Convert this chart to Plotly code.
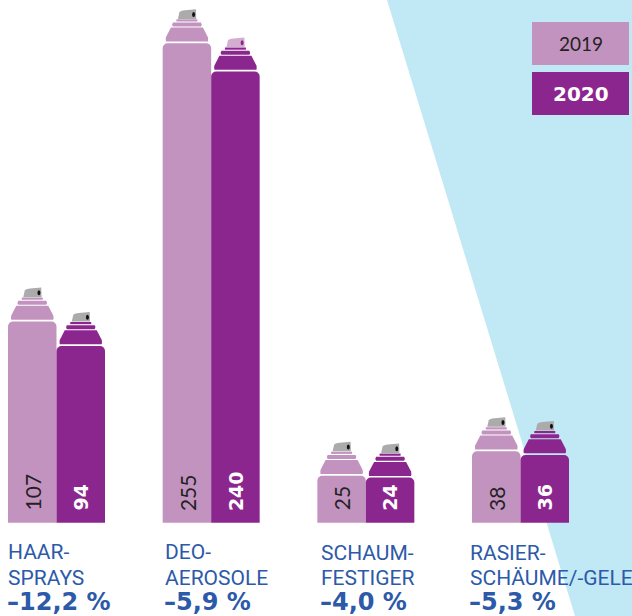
import plotly.graph_objects as go

# ---- data ----
categories = ["Haarsprays", "Deo-Aerosole", "Schaumfestiger", "Rasierschäume/-gele"]
label_lines = [["HAAR-", "SPRAYS"], ["DEO-", "AEROSOLE"], ["SCHAUM-", "FESTIGER"], ["RASIER-", "SCHÄUME/-GELE"]]
changes = ["–12,2 %", "–5,9 %", "–4,0 %", "–5,3 %"]
values_2019 = [107, 255, 25, 38]
values_2020 = [94, 240, 24, 36]

# ---- style ----
C19, C20 = "#c393bf", "#8c268f"
GREY, LIGHT_NOZ, SKY = "#ababab", "#d3aed1", "#c1e8f5"
BLUE = "#2c5aa8"
W, H = 632, 616
BASE_PX, PX_PER_UNIT = 522.7, 1.88
GROUP0_PX, GROUP_STEP = 56.5, 154.67
BAR_W = 48.5 / GROUP_STEP
label_x = [8, 165, 320.5, 470]
label_y = [[552, 578, 601.5], [552, 578, 601.5], [553, 578, 601.5], [553, 578, 601.5]]

fig = go.Figure()
xs = list(range(len(categories)))
for name, vals, col in [("2019", values_2019, C19), ("2020", values_2020, C20)]:
    fig.add_bar(x=xs, y=vals, name=name, marker=dict(color=col, line_width=0, cornerradius=5),
                hovertext=categories)

shapes = [dict(type="path", xref="paper", yref="paper", layer="below", line_width=0, fillcolor=SKY,
               path=f"M {387/W} 1 L 1 1 L 1 0 L {575/W} 0 Z")]


def can(xc, val, col, noz):
    def p(path, fill):
        return dict(type="path", xref="x", yref="y", xsizemode="pixel", ysizemode="pixel",
                    xanchor=xc, yanchor=val, path=path, fillcolor=fill, line_width=0, layer="above")
    return [
        p("M -21 1.7 L 21 1.7 Q 21.5 4 21 6 L 16 15.7 L -16 15.7 L -21 6 Q -21.5 4 -21 1.7 Z", col),
        p("M -14 16.8 L 14 16.8 Q 15.5 18.8 14 20.8 L -14 20.8 Q -15.5 18.8 -14 16.8 Z", col),
        p("M -10.5 21.8 L 10.5 21.8 L 10.5 24 L -10.5 24 Z", col),
        p("M -9 24.4 L 9.3 24.4 L 9 34 L -2 33 Q -6.5 32.5 -7.5 31 Z", noz),
        p("M 6.7 26.3 Q 8.2 26.3 8.2 28.8 Q 8.2 31.3 6.7 31.3 Q 5.2 31.3 5.2 28.8 Q 5.2 26.3 6.7 26.3 Z",
          "#111111" if noz == GREY else C20),
    ]


annotations = []
for i in xs:
    for off, val, col, bold, noz in [(-BAR_W / 2, values_2019[i], C19, False, GREY),
                                     (BAR_W / 2, values_2020[i], C20, True, LIGHT_NOZ if i == 1 else GREY)]:
        shapes += can(i + off, val, col, noz)
        annotations.append(dict(x=i + off, y=0, yref="y", xref="x", yanchor="bottom", yshift=10,
                                text=f"<b>{val}</b>" if bold else str(val), textangle=-90, showarrow=False,
                                font=dict(family="DejaVu Sans" if bold else "Lato",
                                          size=19 if bold else 21, color="#ffffff" if bold else "#222222")))
    for j, line in enumerate(label_lines[i]):
        annotations.append(dict(x=label_x[i] / W, y=1 - label_y[i][j] / H, xref="paper", yref="paper",
                                xanchor="left", yanchor="middle", xshift=-2, text=line, showarrow=False,
                                font=dict(family="Roboto", size=21, color=BLUE)))
    annotations.append(dict(x=label_x[i] / W, y=1 - label_y[i][2] / H, xref="paper", yref="paper",
                            xanchor="left", yanchor="middle", xshift=-2, borderpad=0,
                            text=f"<b>{changes[i]}</b>", showarrow=False,
                            font=dict(family="DejaVu Sans", size=24, color=BLUE)))

# legend boxes
for txt, top, bg, fc, fam, size in [("2019", 22, C19, "#222222", "Lato", 19),
                                    ("<b>2020</b>", 72, C20, "#ffffff", "DejaVu Sans", 20)]:
    shapes.append(dict(type="rect", xref="paper", yref="paper", x0=532 / W, x1=629 / W,
                       y0=1 - top / H, y1=1 - (top + 43) / H, fillcolor=bg, line_width=0))
    annotations.append(dict(x=580.5 / W, y=1 - (top + 21.5) / H, xref="paper", yref="paper", text=txt,
                            xanchor="center", yanchor="middle", showarrow=False,
                            font=dict(family=fam, size=size, color=fc)))

fig.update_layout(
    width=W, height=H, autosize=False, margin=dict(l=0, r=0, t=0, b=0),
    paper_bgcolor="white", plot_bgcolor="rgba(0,0,0,0)", showlegend=False,
    barmode="group", bargap=1 - 2 * BAR_W, bargroupgap=0,
    xaxis=dict(visible=False, fixedrange=True,
               range=[-GROUP0_PX / GROUP_STEP, (W - GROUP0_PX) / GROUP_STEP]),
    yaxis=dict(visible=False, fixedrange=True,
               range=[-(H - BASE_PX) / PX_PER_UNIT, BASE_PX / PX_PER_UNIT]),
    shapes=shapes, annotations=annotations,
)
fig.write_html("out.html", config={"displayModeBar": False},
               post_script="document.body.style.margin='0';document.body.style.overflow='hidden';")
